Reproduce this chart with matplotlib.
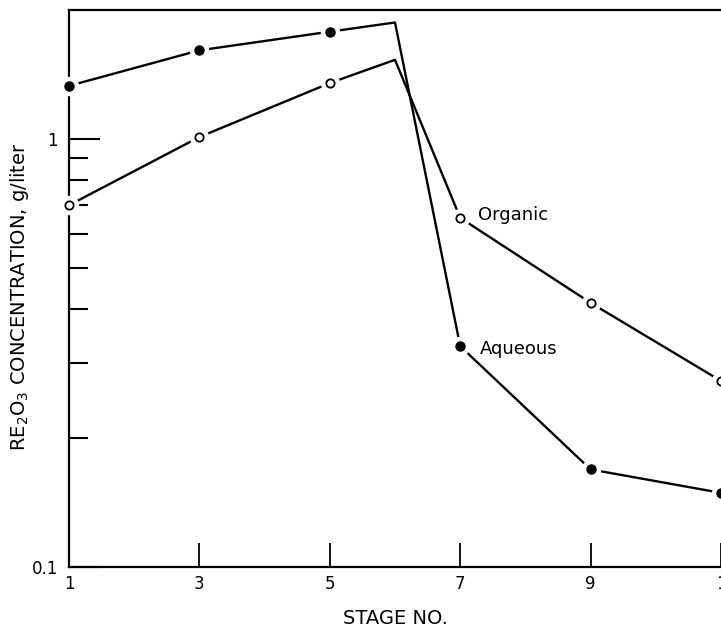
import matplotlib
matplotlib.use("Agg")
import matplotlib.pyplot as plt
from matplotlib.ticker import FixedLocator, NullFormatter

# stage numbers (6 is the unmarked peak of both curves)
stages = [1, 3, 5, 6, 7, 9, 11]
aqueous = [1.33, 1.61, 1.78, 1.87, 0.328, 0.169, 0.149]
organic = [0.70, 1.01, 1.35, 1.53, 0.654, 0.414, 0.272]
marked = [0, 1, 2, 4, 5, 6]

x_ticks = [1, 3, 5, 7, 9, 11]
x_labels = ["1", "3", "5", "7", "9", "1"]
y_major = [0.1, 1]
y_minor = [0.2, 0.3, 0.4, 0.5, 0.6, 0.7, 0.8, 0.9]

plt.rcParams["font.family"] = ["DejaVu Sans"]

fig = plt.figure(figsize=(7.21, 6.33), dpi=100)
ax = fig.add_axes([69 / 721, 1 - 567 / 633, 652 / 721, 557 / 633])

ax.plot(stages, aqueous, color="black", lw=1.7, zorder=2)
ax.plot(stages, organic, color="black", lw=1.7, zorder=2)

mx = [stages[i] for i in marked]
# white halo so lines stop short of the markers
ax.plot(mx, [aqueous[i] for i in marked], "o", ms=13, color="white",
        mec="white", zorder=3, clip_on=False)
ax.plot(mx, [organic[i] for i in marked], "o", ms=13, color="white",
        mec="white", zorder=3, clip_on=False)
ax.plot(mx, [aqueous[i] for i in marked], "o", ms=6.5, color="black",
        zorder=4, clip_on=False)
ax.plot(mx, [organic[i] for i in marked], "o", ms=6, mfc="white",
        mec="black", mew=1.3, zorder=4, clip_on=False)

ax.text(7.28, 0.665, "Organic", fontsize=13, va="center", ha="left")
ax.text(7.3, 0.323, "Aqueous", fontsize=13, va="center", ha="left")

ax.set_yscale("log")
ax.set_xlim(1, 11)
ax.set_ylim(0.1, 2.0)

ax.set_xticks(x_ticks)
ax.set_xticklabels(x_labels, fontsize=12)
ax.yaxis.set_major_locator(FixedLocator(y_major))
ax.set_yticklabels(["0.1", "1"], fontsize=12)
ax.yaxis.set_minor_locator(FixedLocator(y_minor))
ax.yaxis.set_minor_formatter(NullFormatter())
ax.tick_params(axis="x", direction="in", length=17, width=1.3, pad=6)
ax.tick_params(axis="y", which="major", direction="in", length=22, width=1.5, pad=8)
ax.tick_params(axis="y", which="minor", direction="in", length=14, width=1.5)

for side in ["left", "bottom", "top"]:
    ax.spines[side].set_linewidth(1.6)
ax.spines["right"].set_visible(False)

ax.set_xlabel("STAGE NO.", fontsize=14)
ax.xaxis.set_label_coords(0.5, -0.075)
ax.set_ylabel("RE$_2$O$_3$ CONCENTRATION, g/liter", fontsize=14)
ax.yaxis.set_label_coords(-0.058, 0.485)

fig.savefig("out.png", dpi=100)
